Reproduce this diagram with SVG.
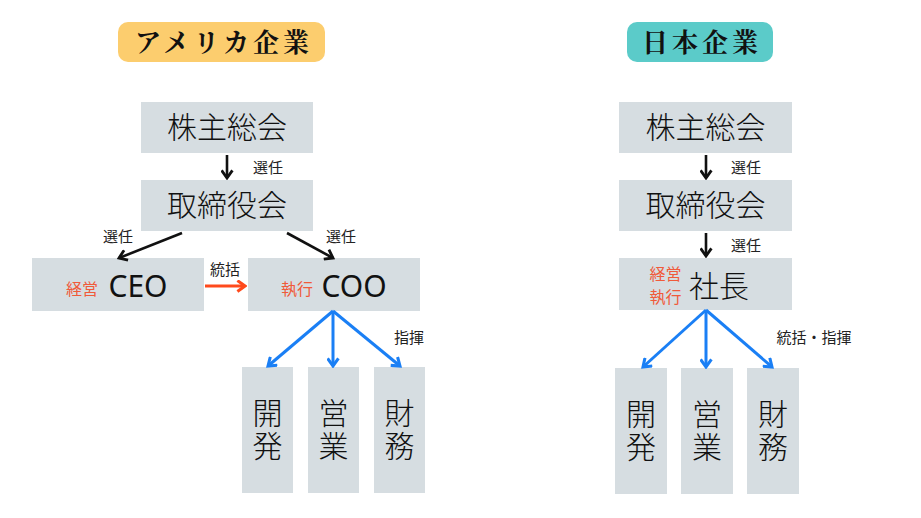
<svg xmlns="http://www.w3.org/2000/svg" width="921" height="518" viewBox="0 0 921 518">
<style>
.box{fill:#D6DDE1}
.t{font-family:"Noto Sans CJK JP","Noto Sans",sans-serif;fill:#111;text-anchor:middle}
.big{font-size:30px;font-weight:300}
.lat{font-family:"Noto Sans","Noto Sans CJK JP",sans-serif;font-size:30px;font-weight:400}
.v{font-size:30px;font-weight:300;writing-mode:vertical-rl;letter-spacing:3px}
.lbl{font-size:15px;fill:#222}
.org{fill:#F05A3A;font-size:16px}
.title{font-family:"Noto Serif CJK JP","Noto Sans CJK JP",serif;font-weight:700;font-size:26px;fill:#111;text-anchor:middle;letter-spacing:4px}
.blk{stroke:#111;stroke-width:2.6;fill:none}
.blu{stroke:#1A7FF5;stroke-width:3;fill:none}
.red{stroke:#FF4A1C;stroke-width:3;fill:none}
</style>
<defs>
<marker id="hb" viewBox="0 0 12 12" refX="10" refY="6" markerWidth="13" markerHeight="13" markerUnits="userSpaceOnUse" orient="auto"><path d="M3,1 L10,6 L3,11" fill="none" stroke="#111" stroke-width="2.6"/></marker>
<marker id="hu" viewBox="0 0 12 12" refX="10" refY="6" markerWidth="13" markerHeight="13" markerUnits="userSpaceOnUse" orient="auto"><path d="M3,1 L10,6 L3,11" fill="none" stroke="#1A7FF5" stroke-width="2.8"/></marker>
<marker id="hr" viewBox="0 0 12 12" refX="10" refY="6" markerWidth="13" markerHeight="13" markerUnits="userSpaceOnUse" orient="auto"><path d="M3,1 L10,6 L3,11" fill="none" stroke="#FF4A1C" stroke-width="2.8"/></marker>
</defs>
<rect width="921" height="518" fill="#fff"/>

<g id="title-us"><rect x="118" y="22" width="207" height="40" rx="10" fill="#FCCD6E"/><text class="title" x="224" y="52">アメリカ企業</text></g>
<g id="title-jp"><rect x="627" y="22" width="146" height="40" rx="10" fill="#5BCBC9"/><text class="title" x="702" y="52">日本企業</text></g>

<g id="us-shareholders"><rect class="box" x="141" y="102" width="172" height="51"/><text class="t big" x="227" y="138">株主総会</text></g>
<g id="us-board"><rect class="box" x="141" y="180" width="172" height="51"/><text class="t big" x="227" y="216">取締役会</text></g>
<g id="us-ceo"><rect class="box" x="32" y="258" width="172" height="53"/><text class="t org" x="82" y="295">経営</text><text class="t lat" x="138" y="297">CEO</text></g>
<g id="us-coo"><rect class="box" x="248" y="258" width="172" height="53"/><text class="t org" x="297" y="295">執行</text><text class="t lat" x="354" y="297">COO</text></g>
<g id="us-dev"><rect class="box" x="242" y="367" width="51" height="126"/><text class="t v" x="267.5" y="431">開発</text></g>
<g id="us-sales"><rect class="box" x="308" y="367" width="51" height="126"/><text class="t v" x="333.5" y="431">営業</text></g>
<g id="us-fin"><rect class="box" x="374" y="367" width="51" height="126"/><text class="t v" x="399.5" y="431">財務</text></g>

<g id="jp-shareholders"><rect class="box" x="619" y="102" width="173" height="51"/><text class="t big" x="705.5" y="138">株主総会</text></g>
<g id="jp-board"><rect class="box" x="619" y="180" width="173" height="51"/><text class="t big" x="705.5" y="216">取締役会</text></g>
<g id="jp-president"><rect class="box" x="619" y="258" width="173" height="52"/><text class="t org" x="665.5" y="280">経営</text><text class="t org" x="665.5" y="303">執行</text><text class="t big" x="719" y="297">社長</text></g>
<g id="jp-dev"><rect class="box" x="615" y="368" width="52" height="126"/><text class="t v" x="641" y="432">開発</text></g>
<g id="jp-sales"><rect class="box" x="681" y="368" width="52" height="126"/><text class="t v" x="707" y="432">営業</text></g>
<g id="jp-fin"><rect class="box" x="747" y="368" width="52" height="126"/><text class="t v" x="773" y="432">財務</text></g>

<g id="connectors">
<line class="blk" x1="227" y1="155" x2="227" y2="178" marker-end="url(#hb)"/>
<line class="blk" x1="182" y1="233" x2="119" y2="258" marker-end="url(#hb)"/>
<line class="blk" x1="287" y1="233" x2="333" y2="258" marker-end="url(#hb)"/>
<line class="red" x1="205" y1="286" x2="245" y2="286" marker-end="url(#hr)"/>
<line class="blu" x1="333" y1="311" x2="268" y2="366" marker-end="url(#hu)"/>
<line class="blu" x1="333" y1="311" x2="333" y2="366" marker-end="url(#hu)"/>
<line class="blu" x1="333" y1="311" x2="400" y2="366" marker-end="url(#hu)"/>
<line class="blk" x1="706" y1="155" x2="706" y2="178" marker-end="url(#hb)"/>
<line class="blk" x1="706" y1="233" x2="706" y2="256" marker-end="url(#hb)"/>
<line class="blu" x1="706" y1="310" x2="643" y2="367" marker-end="url(#hu)"/>
<line class="blu" x1="706" y1="310" x2="706" y2="367" marker-end="url(#hu)"/>
<line class="blu" x1="706" y1="310" x2="772" y2="367" marker-end="url(#hu)"/>
<text class="t lbl" x="268" y="173">選任</text>
<text class="t lbl" x="118" y="242">選任</text>
<text class="t lbl" x="341" y="242">選任</text>
<text class="t lbl" x="225" y="275">統括</text>
<text class="t lbl" x="409" y="343">指揮</text>
<text class="t lbl" x="746" y="173">選任</text>
<text class="t lbl" x="746" y="251">選任</text>
<text class="t lbl" x="814" y="343">統括・指揮</text>
</g>
</svg>
